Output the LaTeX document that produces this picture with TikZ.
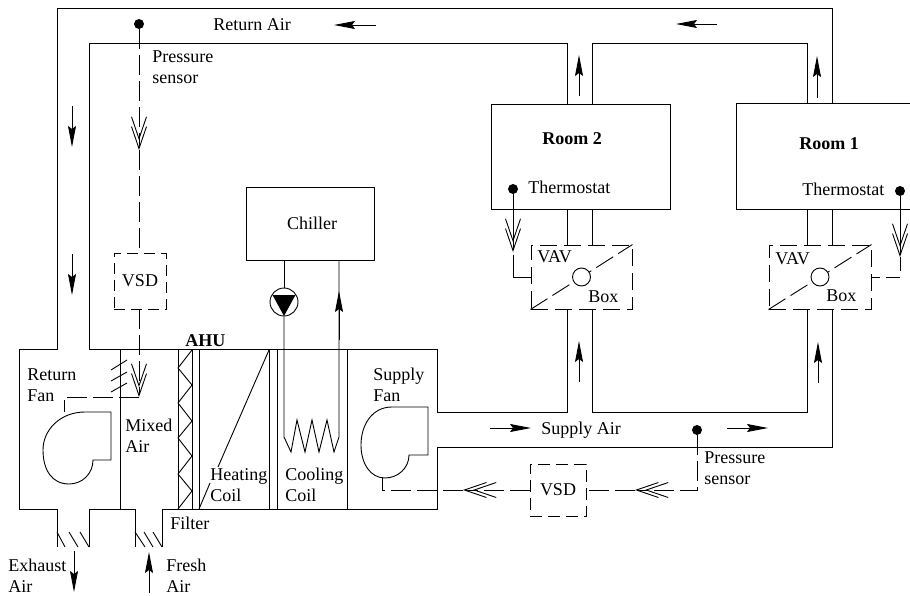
\documentclass[tikz,border=0pt]{standalone}
\usepackage{fontspec}
\setmainfont{Liberation Serif}
\usetikzlibrary{positioning,shapes,arrows.meta,calc}
\tikzstyle{every node}=[font=\fontsize{18}{21.5}\selectfont]
\tikzstyle{lbl}=[align=left,inner sep=0pt,anchor=west]
\tikzstyle{box}=[draw,rectangle,inner sep=0pt]
\tikzstyle{ctrl}=[dash pattern=on 20pt off 6pt]
\tikzstyle{ctrlbox}=[draw,rectangle,inner sep=0pt,dash pattern=on 17pt off 7pt]
\tikzstyle{dot}=[circle,fill=black,inner sep=0pt,minimum size=10pt]
\tikzstyle{dbl}=[-{Straight Barb[length=22pt,width=15pt,sep=-14pt]Straight Barb[length=22pt,width=15pt]}]

\begin{document}
\begin{tikzpicture}[x=1pt,y=-1pt,line width=0.9pt,>={Stealth[length=21pt,width=8pt,inset=3pt]}]
      \useasboundingbox (0,0) rectangle (910,596);

      % ducts
      \draw (567,309) -- (567,412) -- (437,412) -- (437,349) -- (89,349) -- (89,43) -- (567,43) -- (567,104);
      \draw (592,104) -- (592,43) -- (807,43) -- (807,104);
      \draw (832,104) -- (832,8) -- (57,8) -- (57,349) -- (19,349) -- (19,509) -- (57,509) -- (57,547);
      \draw (89,547) -- (89,509) -- (135,509) -- (135,547);
      \draw (162,547) -- (162,509) -- (437,509) -- (437,447) -- (832,447) -- (832,309);
      \draw (592,309) -- (592,412) -- (807,412) -- (807,309);

      % AHU sections
      \draw (120,349) -- (120,509);
      \draw (178,349) -- (178,509);
      \draw (192,349) -- (192,509);
      \draw (199,349) -- (199,509);
      \draw (269,349) -- (269,509);
      \draw (277,349) -- (277,509);
      \draw (347,349) -- (347,509);
      \draw (192,350) -- (178,368) -- (192,385) -- (178,403) -- (192,421) -- (178,438) -- (192,456) -- (178,474) -- (192,491) -- (178,509);
      \draw (269,350) -- (218,467);
      \draw (210,483) -- (199,509);

      % dampers
      \draw (111,370) -- (127,360);
      \draw (111,381) -- (127,372);
      \draw (111,392) -- (127,383);
      \draw (57,532) -- (65,547);
      \draw (69,532) -- (78,547);
      \draw (80,532) -- (89,547);
      \draw (135,532) -- (145,547);
      \draw (144,532) -- (153,547);
      \draw (153,532) -- (162,547);

      % fans
      \draw (111,412) -- (85,412) .. controls (60,412) and (43,430) .. (43,450) .. controls (43,470) and (52,484) .. (69,484) .. controls (82,484) and (93,474) .. (93,460) -- (111,460) -- cycle;
      \draw (428,407) -- (392,407) .. controls (372,407) and (361,425) .. (361,445) .. controls (361,463) and (370,478) .. (385,478) .. controls (398,478) and (409,468) .. (409,455) -- (428,455) -- cycle;

      % rooms and boxes
      \node [box,minimum width=179pt,minimum height=105pt] (room2) at (580.5,156.5) {};
      \node [minimum width=173pt,minimum height=105pt] (room1) at (823.5,156.5) {};
      \draw (room1.north east) -- (room1.north west) -- (room1.south west) -- (room1.south east);
      \node [box,minimum width=128pt,minimum height=73pt,text depth=0pt] (chiller) at (310,223.5) {\hspace{4pt}Chiller};
      \node [ctrlbox,minimum width=101pt,minimum height=64pt] (vav2) at (581.5,277) {};
      \node [ctrlbox,minimum width=102pt,minimum height=64pt] (vav1) at (820,277) {};
      \node [ctrlbox,minimum width=52pt,minimum height=56pt,dash pattern=on 11pt off 6pt] (vsdret) at (140,281) {VSD};
      \node [ctrlbox,minimum width=56pt,minimum height=52pt,dash pattern=on 12pt off 6pt] (vsdsup) at (558,490) {VSD};

      \draw ($(room2.south)+(-13.5,0)$) -- ($(vav2.north)+(-14.5,0)$);
      \draw ($(room2.south)+(11.5,0)$) -- ($(vav2.north)+(10.5,0)$);
      \draw ($(room1.south)+(-16.5,0)$) -- ($(vav1.north)+(-13,0)$);
      \draw ($(room1.south)+(8.5,0)$) -- ($(vav1.north)+(12,0)$);

      \draw [ctrl] (vav2.south west) -- (vav2.north east);
      \draw [ctrl] (vav1.south west) -- (vav1.north east);
      \node [draw,circle,fill=white,inner sep=0pt,minimum size=18pt] (damp2) at (vav2.center) {};
      \node [draw,circle,fill=white,inner sep=0pt,minimum size=18pt] (damp1) at (vav1.center) {};

      % chiller pipes
      \node [draw,circle,fill=white,inner sep=0pt,minimum size=28pt] (pump) at (284,302) {};
      \fill ($(pump)+(-11.5,-7)$) -- ($(pump)+(11.5,-7)$) -- ($(pump)+(0,14)$) -- cycle;
      \draw ($(chiller.south)+(-26,0)$) -- (pump.north);
      \draw (pump.south) -- (284,437) -- (291,452) -- (297,420) -- (305,452) -- (312,420) -- (319,452) -- (327,420) -- (334,452) -- (339,437) -- ($(chiller.south)+(29,0)$);
      \draw [->] (339,340) -- (339,291);

      % return side control
      \node [dot] (sensret) at (139,24) {};
      \coordinate (tipret1) at (139,150);
      \coordinate (tipret2) at (139,397);
      \coordinate (fanret) at (64,412);
      \draw [ctrl,dbl] (sensret) -- (tipret1);
      \draw [ctrl] (tipret1) -- (vsdret.north -| tipret1);
      \draw [ctrl,dbl] (vsdret.south -| tipret1) -- (tipret2);
      \draw [ctrl] (tipret2) -| (fanret);

      % supply side control
      \node [dot] (senssup) at (697,430) {};
      \coordinate (cornersup) at (697,490);
      \coordinate (tipsup1) at (635,490);
      \coordinate (tipsup2) at (463,490);
      \coordinate (fansup) at (382,478);
      \draw [ctrl,dbl] (senssup) -- (cornersup) -- (tipsup1);
      \draw [ctrl] (tipsup1) -- (vsdsup.east |- tipsup1);
      \draw [ctrl,dbl] (vsdsup.west |- tipsup2) -- (tipsup2);
      \draw [ctrl] (tipsup2) -| (fansup);

      % thermostats
      \node [dot] (therm2) at (513,189) {};
      \coordinate (tiptherm2) at (513,252);
      \draw [dbl] (therm2) -- (tiptherm2);
      \draw (tiptherm2) ++(0,3) |- (vav2.west);
      \node [dot] (therm1) at (900,191) {};
      \coordinate (tiptherm1) at (900,257);
      \draw [dbl] (therm1) -- (tiptherm1);
      \draw [dash pattern=on 14pt off 6pt] (tiptherm1) |- (vav1.east);

      % air flow
      \draw [->] (376,25) -- (334,25);
      \draw [->] (717,24) -- (676,24);
      \draw [->] (72,106) -- (72,147);
      \draw [->] (72,254) -- (72,295);
      \draw [->] (579,96) -- (579,55);
      \draw [->] (817,98) -- (817,56);
      \draw [->] (579,382) -- (579,341);
      \draw [->] (818,383) -- (818,342);
      \draw [->] (490,428) -- (531,428);
      \draw [->] (727,428) -- (768,428);
      \draw [->] (74,551) -- (74,592);
      \draw [->] (149,593) -- (149,552);

      % labels
      \node [lbl] (lblreturn) at (213,25) {Return Air};
      \node [lbl] (lblsupply) at (541,430) {Supply Air};
      \node [lbl] (lblpress1) at (152,67) {Pressure\\sensor};
      \node [lbl] (lblpress2) at (704,468) {Pressure\\sensor};
      \node [lbl] (lblrfan) at (27,385) {Return\\Fan};
      \node [lbl] (lblmixed) at (125,436) {Mixed\\Air};
      \node [lbl] (lblheat) at (210,485) {Heating\\Coil};
      \node [lbl] (lblcool) at (285,485) {Cooling\\Coil};
      \node [lbl] (lblsfan) at (373,385) {Supply\\Fan};
      \node [lbl] (lblfilter) at (170,523) {Filter};
      \node [lbl] (lblexhaust) at (8,576) {Exhaust\\Air};
      \node [lbl] (lblfresh) at (166,576) {Fresh\\Air};
      \node [lbl] (lblahu) at (185,341) {\textbf{AHU}};
      \node [lbl] (lblroom2) at (542,139) {\textbf{Room 2}};
      \node [lbl] (lblroom1) at (799,144) {\textbf{Room 1}};
      \node [lbl] (lbltherm2) at (528,187) {Thermostat};
      \node [lbl] (lbltherm1) at (802,189) {Thermostat};
      \node [lbl] (lblvav2) at (537,257) {VAV};
      \node [lbl] (lblbox2) at (588,297) {Box};
      \node [lbl] (lblvav1) at (775,259) {VAV};
      \node [lbl] (lblbox1) at (826,296) {Box};
\end{tikzpicture}
\end{document}
